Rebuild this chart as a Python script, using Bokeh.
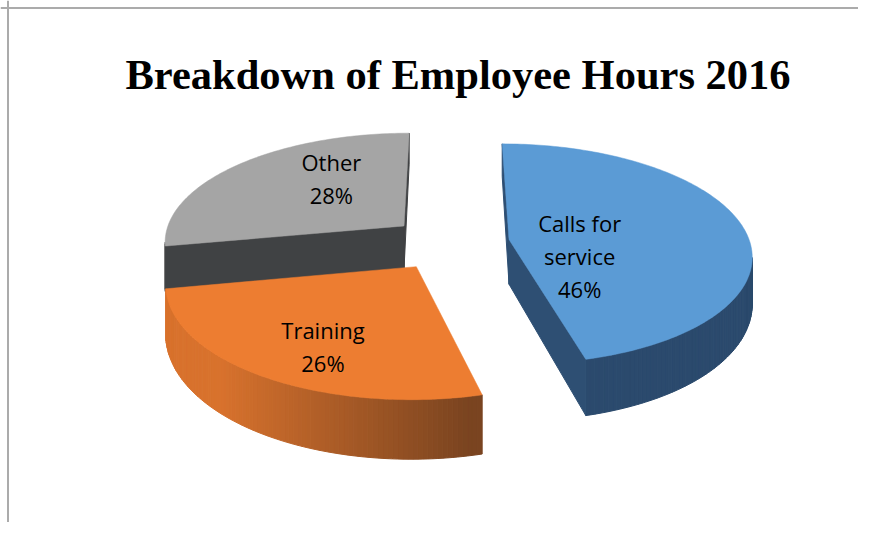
import math
import textwrap
import numpy as np
from bokeh.plotting import figure
from bokeh.models import Range1d, Span
from bokeh.embed import file_html
from bokeh.resources import INLINE
from bokeh.core.properties import value

# ---------------- data ----------------
TITLE = "Breakdown of Employee Hours 2016"
categories = ["Calls for service", "Training", "Other"]
percent = [46, 26, 28]

# ---------------- style ----------------
top_colors = ["#5B9BD5", "#ED7D31", "#A5A5A5"]
wall_light = ["#2F5379", "#D8722D", "#606060"]
wall_dark = ["#2B4A6D", "#7A4420", "#404040"]
cut_colors = ["#2E4F73", "#8A4A22", "#404244"]
label_nudge = [(-47, 23), (-21, 28), (13, -15)]   # pixel nudges of the label blocks
LINE_GAP = 33

# 3-D projection settings (pixels)
X0, Y0 = 449.0, 242.5
A, B = 241.0, 109.0
P = 0.13
D0, D1 = 45.0, 12.0
EXPLODE = 0.25


def project(u, v, h):
    f = 1.0 / (1.0 + P * v)
    x = X0 + A * u * f
    y = Y0 - B * v * f + h * (D0 - D1 * v)
    return x, y


def signed_area(xs, ys):
    s = 0.0
    n = len(xs)
    for i in range(n):
        j = (i + 1) % n
        s += xs[i] * ys[j] - xs[j] * ys[i]
    return s


def hex_to_rgb(c):
    c = c.lstrip("#")
    return tuple(int(c[i:i + 2], 16) for i in (0, 2, 4))


def mix(c1, c2, t):
    a, b = hex_to_rgb(c1), hex_to_rgb(c2)
    return "#%02x%02x%02x" % tuple(int(round(a[k] + (b[k] - a[k]) * t)) for k in range(3))


W, H = 858, 522
p = figure(width=W, height=H, output_backend="svg", toolbar_location=None,
           x_range=Range1d(0, W), y_range=Range1d(H, 0),
           min_border=0, outline_line_color=None)
p.axis.visible = False
p.grid.visible = False
p.background_fill_color = "white"
p.border_fill_color = "white"

# chart border (left and top edges)
p.add_layout(Span(location=7.5, dimension="height", line_color="#ABABAB", line_width=2))
p.add_layout(Span(location=7.5, dimension="width", line_color="#ABABAB", line_width=2))

# slice angles
total = float(sum(percent))
starts, ends = [], []
acc = 0.0
for val in percent:
    starts.append(acc * 360.0 / total)
    acc += val
    ends.append(acc * 360.0 / total)

slices = []
for i in range(len(percent)):
    a, b = starts[i], ends[i]
    m = math.radians((a + b) / 2)
    cu, cv = EXPLODE * math.sin(m), EXPLODE * math.cos(m)
    slices.append((i, a, b, cu, cv, m))

# draw back slices first
order = sorted(slices, key=lambda s: -s[4])

label_items = []
for (i, a, b, cu, cv, m) in order:
    thetas = np.linspace(a, b, max(8, int((b - a) / 1.0) + 1))
    rim = [(cu + math.sin(math.radians(t)), cv + math.cos(math.radians(t))) for t in thetas]

    def T(pt):
        return project(pt[0], pt[1], 0)

    def Bt(pt):
        return project(pt[0], pt[1], 1)

    faces_x, faces_y, faces_c = [], [], []
    # outer wall segments
    for k in range(len(thetas) - 1):
        p1, p2 = rim[k], rim[k + 1]
        pts = [T(p2), T(p1), Bt(p1), Bt(p2)]
        xs = [q[0] for q in pts]
        ys = [q[1] for q in pts]
        if signed_area(xs, ys) > 0:
            s = math.sin(math.radians((thetas[k] + thetas[k + 1]) / 2))
            t = min(1.0, max(0.0, (s + 0.7) / 0.9))
            faces_x.append(xs)
            faces_y.append(ys)
            faces_c.append(mix(wall_light[i], wall_dark[i], t))
    c = (cu, cv)
    # start cut
    pts = [T(rim[0]), T(c), Bt(c), Bt(rim[0])]
    xs = [q[0] for q in pts]; ys = [q[1] for q in pts]
    if signed_area(xs, ys) > 0:
        faces_x.append(xs); faces_y.append(ys); faces_c.append(cut_colors[i])
    # end cut
    pts = [T(c), T(rim[-1]), Bt(rim[-1]), Bt(c)]
    xs = [q[0] for q in pts]; ys = [q[1] for q in pts]
    if signed_area(xs, ys) > 0:
        faces_x.append(xs); faces_y.append(ys); faces_c.append(cut_colors[i])

    if faces_x:
        p.patches(xs=faces_x, ys=faces_y, fill_color=faces_c, line_color=faces_c,
                  line_width=1)

    top_pts = [T(c)] + [T(q) for q in rim]
    p.patch([q[0] for q in top_pts], [q[1] for q in top_pts],
            fill_color=top_colors[i], line_color=top_colors[i], line_width=0.5)

    # label anchor
    lx, ly = project(cu + 0.5 * math.sin(m), cv + 0.5 * math.cos(m), 0)
    lx += label_nudge[i][0]
    ly += label_nudge[i][1]
    lines = textwrap.wrap(categories[i], 9) + ["%d%%" % percent[i]]
    n = len(lines)
    for j, line in enumerate(lines):
        label_items.append((lx, ly + (j - (n - 1) / 2.0) * LINE_GAP, line))

p.text(x=[q[0] for q in label_items], y=[q[1] for q in label_items],
       text=[q[2] for q in label_items], text_align="center", text_baseline="middle",
       text_font=value("Open Sans"), text_font_size="22px", text_color="#000000")

# title
p.text(x=[457.5], y=[74], text=[TITLE], text_align="center", text_baseline="alphabetic",
       text_font=value("Liberation Serif"), text_font_style="bold",
       text_font_size="42.5px", text_color="#000000")

open("out.html", "w").write(file_html(p, INLINE))
